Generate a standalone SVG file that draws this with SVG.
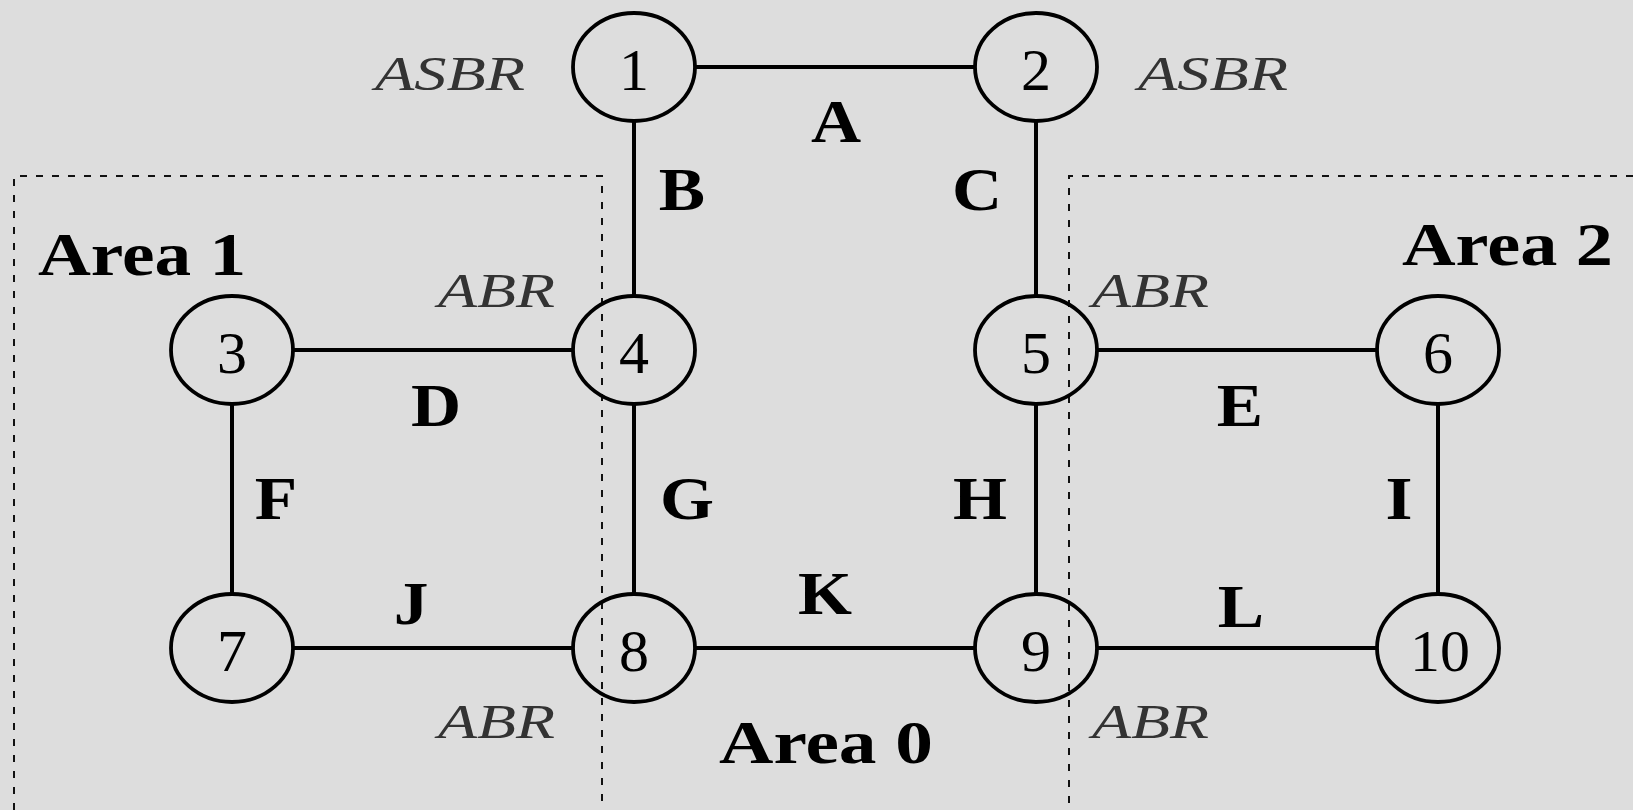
<svg xmlns="http://www.w3.org/2000/svg" width="1633" height="810" viewBox="0 0 1633 810">
<style>
.bg{fill:#dddddd}
.area{fill:none;stroke:#111;stroke-width:2;stroke-dasharray:7 9}
.link{stroke:#000;stroke-width:4;fill:none}
.node ellipse{fill:none;stroke:#000;stroke-width:3.8}
.num{font-family:"Liberation Serif","Times New Roman",serif;font-size:60px;text-anchor:middle;fill:#000}
.role{font-family:"Liberation Serif","Times New Roman",serif;font-style:italic;font-size:48px;fill:#333}
.lbl{font-family:"Liberation Serif","Times New Roman",serif;font-weight:bold;font-size:62px;text-anchor:middle;fill:#000}
</style>
<rect class="bg" x="0" y="0" width="1633" height="810"/>
<g id="areas">
<path class="area" d="M14,810 V176 H602 V810"/>
<path class="area" d="M1633,176 H1069 V810"/>
</g>
<g id="connectors">
<line class="link" x1="695" y1="67" x2="975" y2="67"/>
<line class="link" x1="634" y1="121" x2="634" y2="296"/>
<line class="link" x1="1036" y1="121" x2="1036" y2="296"/>
<line class="link" x1="293" y1="350" x2="573" y2="350"/>
<line class="link" x1="1097" y1="350" x2="1377" y2="350"/>
<line class="link" x1="232" y1="404" x2="232" y2="594"/>
<line class="link" x1="634" y1="404" x2="634" y2="594"/>
<line class="link" x1="1036" y1="404" x2="1036" y2="594"/>
<line class="link" x1="1438" y1="404" x2="1438" y2="594"/>
<line class="link" x1="293" y1="648" x2="573" y2="648"/>
<line class="link" x1="695" y1="648" x2="975" y2="648"/>
<line class="link" x1="1097" y1="648" x2="1377" y2="648"/>
</g>
<g id="node1" class="node"><ellipse cx="634" cy="67" rx="61" ry="54"/><text class="num" x="634" y="90">1</text></g>
<g id="node2" class="node"><ellipse cx="1036" cy="67" rx="61" ry="54"/><text class="num" x="1036" y="90">2</text></g>
<g id="node3" class="node"><ellipse cx="232" cy="350" rx="61" ry="54"/><text class="num" x="232" y="373">3</text></g>
<g id="node4" class="node"><ellipse cx="634" cy="350" rx="61" ry="54"/><text class="num" x="634" y="373">4</text></g>
<g id="node5" class="node"><ellipse cx="1036" cy="350" rx="61" ry="54"/><text class="num" x="1036" y="373">5</text></g>
<g id="node6" class="node"><ellipse cx="1438" cy="350" rx="61" ry="54"/><text class="num" x="1438" y="373">6</text></g>
<g id="node7" class="node"><ellipse cx="232" cy="648" rx="61" ry="54"/><text class="num" x="232" y="671">7</text></g>
<g id="node8" class="node"><ellipse cx="634" cy="648" rx="61" ry="54"/><text class="num" x="634" y="671">8</text></g>
<g id="node9" class="node"><ellipse cx="1036" cy="648" rx="61" ry="54"/><text class="num" x="1036" y="671">9</text></g>
<g id="node10" class="node"><ellipse cx="1438" cy="648" rx="61" ry="54"/><text class="num" x="1440" y="671">10</text></g>
<g id="roles">
<text class="role" x="375" y="90" textLength="150" lengthAdjust="spacingAndGlyphs">ASBR</text>
<text class="role" x="1138" y="90" textLength="150" lengthAdjust="spacingAndGlyphs">ASBR</text>
<text class="role" x="438" y="307" textLength="117" lengthAdjust="spacingAndGlyphs">ABR</text>
<text class="role" x="1092" y="307" textLength="117" lengthAdjust="spacingAndGlyphs">ABR</text>
<text class="role" x="438" y="738" textLength="117" lengthAdjust="spacingAndGlyphs">ABR</text>
<text class="role" x="1092" y="738" textLength="117" lengthAdjust="spacingAndGlyphs">ABR</text>
</g>
<g id="link-labels">
<text class="lbl" transform="translate(836,142) scale(1.12,1)">A</text>
<text class="lbl" transform="translate(682,210) scale(1.12,1)">B</text>
<text class="lbl" transform="translate(977,210) scale(1.12,1)">C</text>
<text class="lbl" transform="translate(436,426) scale(1.12,1)">D</text>
<text class="lbl" transform="translate(1240,426) scale(1.12,1)">E</text>
<text class="lbl" transform="translate(276,519) scale(1.12,1)">F</text>
<text class="lbl" transform="translate(687,519) scale(1.12,1)">G</text>
<text class="lbl" transform="translate(980,519) scale(1.12,1)">H</text>
<text class="lbl" transform="translate(1399,519) scale(1.12,1)">I</text>
<text class="lbl" transform="translate(411,624) scale(1.12,1)">J</text>
<text class="lbl" transform="translate(825,614) scale(1.12,1)">K</text>
<text class="lbl" transform="translate(1241,627) scale(1.12,1)">L</text>
</g>
<g id="area-labels">
<text class="lbl" x="38" y="275" textLength="208" lengthAdjust="spacingAndGlyphs" style="text-anchor:start">Area 1</text>
<text class="lbl" x="1402" y="265" textLength="211" lengthAdjust="spacingAndGlyphs" style="text-anchor:start">Area 2</text>
<text class="lbl" x="719" y="763" textLength="214" lengthAdjust="spacingAndGlyphs" style="text-anchor:start">Area 0</text>
</g>
</svg>
